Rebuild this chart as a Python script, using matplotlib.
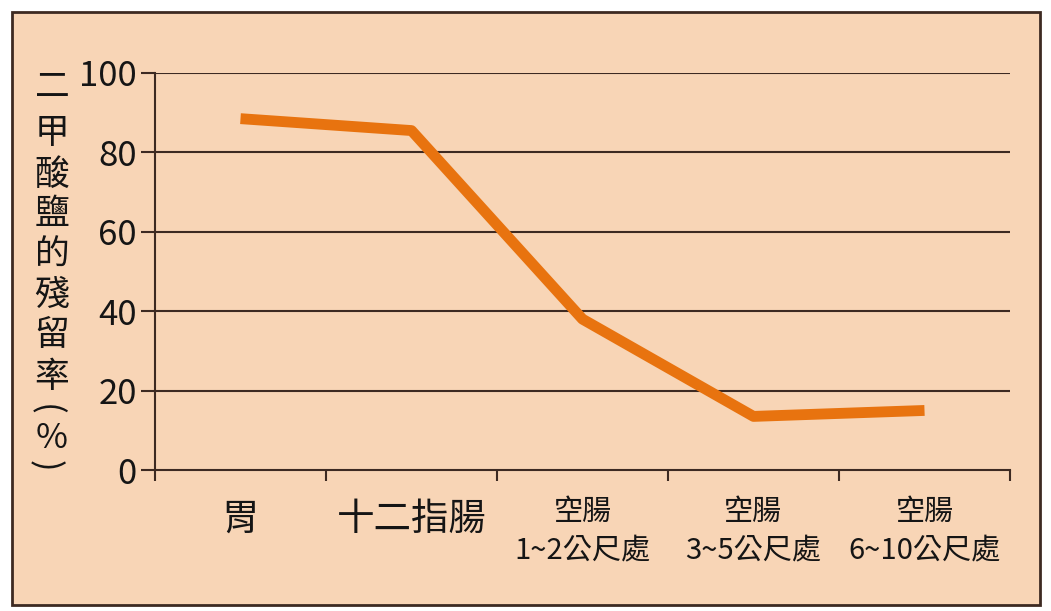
import matplotlib
matplotlib.use("Agg")
import matplotlib.pyplot as plt
from matplotlib.patches import Rectangle
import matplotlib.transforms as mtransforms

plt.rcParams['font.family'] = ['Noto Sans CJK TC', 'DejaVu Sans']

categories_top = ["胃", "十二指腸", "空腸", "空腸", "空腸"]
categories_bottom = ["", "", "1~2公尺處", "3~5公尺處", "6~10公尺處"]
values = [88.5, 85.5, 38, 13.5, 15]
yticks = [0, 20, 40, 60, 80, 100]
ylabel_chars = ["二", "甲", "酸", "鹽", "的", "殘", "留", "率", "(", "%", ")"]

bg = "#f8d5b6"
dark = "#3d2a22"
orange = "#e8730f"
txt = "#151515"

W, H = 1051, 611
fig = plt.figure(figsize=(W/100, H/100), dpi=100)
fig.patch.set_facecolor("white")
fig.patches.append(Rectangle((12/W, 1-605/H), (1040-12)/W, (605-12)/H,
                             transform=fig.transFigure, facecolor=bg,
                             edgecolor=dark, linewidth=2, zorder=-5))

ax = fig.add_axes([155/W, 1-470/H, (1010-155)/W, (470-73)/H])
ax.set_zorder(2)
ax.set_facecolor("none")
x = list(range(len(values)))
ax.plot(x, values, color=orange, linewidth=7.8, solid_capstyle="butt",
        solid_joinstyle="round", zorder=3)

ax.set_xlim(-0.5, 4.5)
ax.set_ylim(0, 100)
ax.set_yticks(yticks)
ax.set_yticklabels([str(v) for v in yticks], fontsize=25, color=txt)
ax.tick_params(axis="y", direction="out", length=10, width=1.5, color=dark, pad=3)
ax.set_xticks([i - 0.5 for i in range(len(values) + 1)])
ax.set_xticklabels([])
ax.tick_params(axis="x", direction="out", length=8, width=1.5, color=dark)
for yv in yticks[1:]:
    ax.axhline(yv, color=dark, linewidth=1.5, zorder=1)
for s in ["top", "right"]:
    ax.spines[s].set_visible(False)
for s in ["left", "bottom"]:
    ax.spines[s].set_color(dark)
    ax.spines[s].set_linewidth(1.5)

trans = mtransforms.blended_transform_factory(ax.transData, fig.transFigure)
for i, (t, b) in enumerate(zip(categories_top, categories_bottom)):
    if b:
        ax.text(i, 1-512/H, t, transform=trans, ha="center", va="center",
                fontsize=21, color=txt)
        ax.text(i, 1-550/H, b, transform=trans, ha="center", va="center",
                fontsize=21, color=txt)
    else:
        ax.text(i, 1-519/H, t, transform=trans, ha="center", va="center",
                fontsize=27, color=txt)

# vertical y label
ylabel_pos = [88, 133, 175, 215, 255, 295, 335, 377, 410, 438, 466]
for ch, yy in zip(ylabel_chars, ylabel_pos):
    if ch in "()":
        fig.text(45/W, 1-yy/H, ch, ha="center", va="center", fontsize=25,
                 color=txt, rotation=-90)
    else:
        fig.text(52/W, 1-yy/H, ch, ha="center", va="center", fontsize=25,
                 color=txt)

fig.savefig("out.png", dpi=100, facecolor="white")
